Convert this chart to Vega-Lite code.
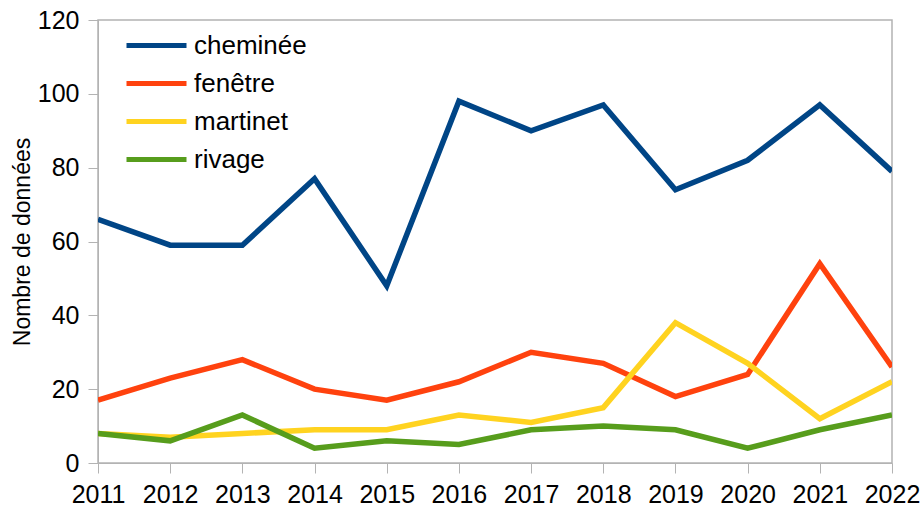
{
  "$schema": "https://vega.github.io/schema/vega-lite/v6.json",
  "width": 794,
  "height": 443,
  "autosize": {"type": "none"},
  "padding": {"left": 98, "top": 20, "right": 30, "bottom": 43},
  "background": "white",
  "config": {
    "font": "Liberation Sans",
    "view": {"stroke": "#b3b3b3", "strokeWidth": 1.5}
  },
  "data": {
    "values": [
      {"year": "2011", "serie": "cheminée", "n": 66},
      {"year": "2012", "serie": "cheminée", "n": 59},
      {"year": "2013", "serie": "cheminée", "n": 59},
      {"year": "2014", "serie": "cheminée", "n": 77},
      {"year": "2015", "serie": "cheminée", "n": 48},
      {"year": "2016", "serie": "cheminée", "n": 98},
      {"year": "2017", "serie": "cheminée", "n": 90},
      {"year": "2018", "serie": "cheminée", "n": 97},
      {"year": "2019", "serie": "cheminée", "n": 74},
      {"year": "2020", "serie": "cheminée", "n": 82},
      {"year": "2021", "serie": "cheminée", "n": 97},
      {"year": "2022", "serie": "cheminée", "n": 79},
      {"year": "2011", "serie": "fenêtre", "n": 17},
      {"year": "2012", "serie": "fenêtre", "n": 23},
      {"year": "2013", "serie": "fenêtre", "n": 28},
      {"year": "2014", "serie": "fenêtre", "n": 20},
      {"year": "2015", "serie": "fenêtre", "n": 17},
      {"year": "2016", "serie": "fenêtre", "n": 22},
      {"year": "2017", "serie": "fenêtre", "n": 30},
      {"year": "2018", "serie": "fenêtre", "n": 27},
      {"year": "2019", "serie": "fenêtre", "n": 18},
      {"year": "2020", "serie": "fenêtre", "n": 24},
      {"year": "2021", "serie": "fenêtre", "n": 54},
      {"year": "2022", "serie": "fenêtre", "n": 26},
      {"year": "2011", "serie": "martinet", "n": 8},
      {"year": "2012", "serie": "martinet", "n": 7},
      {"year": "2013", "serie": "martinet", "n": 8},
      {"year": "2014", "serie": "martinet", "n": 9},
      {"year": "2015", "serie": "martinet", "n": 9},
      {"year": "2016", "serie": "martinet", "n": 13},
      {"year": "2017", "serie": "martinet", "n": 11},
      {"year": "2018", "serie": "martinet", "n": 15},
      {"year": "2019", "serie": "martinet", "n": 38},
      {"year": "2020", "serie": "martinet", "n": 27},
      {"year": "2021", "serie": "martinet", "n": 12},
      {"year": "2022", "serie": "martinet", "n": 22},
      {"year": "2011", "serie": "rivage", "n": 8},
      {"year": "2012", "serie": "rivage", "n": 6},
      {"year": "2013", "serie": "rivage", "n": 13},
      {"year": "2014", "serie": "rivage", "n": 4},
      {"year": "2015", "serie": "rivage", "n": 6},
      {"year": "2016", "serie": "rivage", "n": 5},
      {"year": "2017", "serie": "rivage", "n": 9},
      {"year": "2018", "serie": "rivage", "n": 10},
      {"year": "2019", "serie": "rivage", "n": 9},
      {"year": "2020", "serie": "rivage", "n": 4},
      {"year": "2021", "serie": "rivage", "n": 9},
      {"year": "2022", "serie": "rivage", "n": 13}
    ]
  },
  "mark": {"type": "line", "strokeWidth": 5.5, "strokeJoin": "miter", "clip": true},
  "encoding": {
    "x": {
      "field": "year",
      "type": "ordinal",
      "scale": {"type": "point", "padding": 0},
      "axis": {
        "title": null,
        "labelAngle": 0,
        "labelFontSize": 25,
        "labelColor": "black",
        "labelPadding": 9,
        "tickColor": "#b3b3b3",
        "tickSize": 10,
        "domainColor": "#b3b3b3",
        "grid": false
      }
    },
    "y": {
      "field": "n",
      "type": "quantitative",
      "scale": {"domain": [0, 120], "nice": false},
      "axis": {
        "title": "Nombre de données",
        "titleFontSize": 23,
        "titleFontWeight": "normal",
        "titleColor": "black",
        "titlePadding": 3,
        "values": [0, 20, 40, 60, 80, 100, 120],
        "labelFontSize": 25,
        "labelColor": "black",
        "labelPadding": 9,
        "tickColor": "#b3b3b3",
        "tickSize": 10,
        "domainColor": "#b3b3b3",
        "grid": false
      }
    },
    "color": {
      "field": "serie",
      "type": "nominal",
      "scale": {
        "domain": ["cheminée", "fenêtre", "martinet", "rivage"],
        "range": ["#004586", "#ff420e", "#ffd320", "#579d1c"]
      },
      "legend": {
        "title": null,
        "orient": "none",
        "legendX": 41,
        "legendY": 8,
        "symbolType": "M-2,0H2",
        "symbolSize": 900,
        "symbolStrokeWidth": 5,
        "symbolFillColor": "transparent",
        "labelFontSize": 26,
        "labelColor": "black",
        "labelOffset": 20,
        "rowPadding": 7
      }
    }
  }
}
